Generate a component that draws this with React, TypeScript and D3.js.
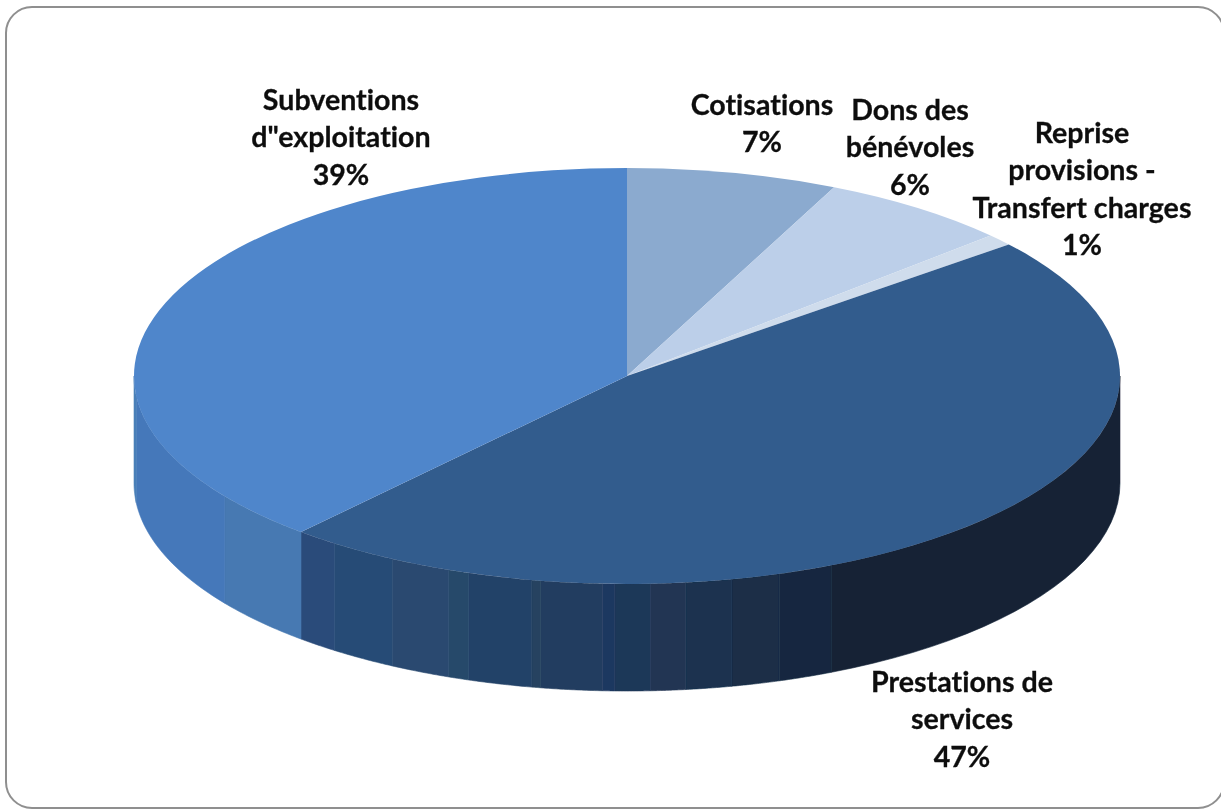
import { arc, area, pie, range, scaleLinear } from "d3";

const categories = ["Cotisations", "Dons des bénévoles", "Reprise provisions - Transfert charges", "Prestations de services", "Subventions d\"exploitation"];
const shares = [6.9, 6.3, 0.9, 47.4, 38.5];
const topColors = ["#8baacf", "#bccfe9", "#cfdcec", "#325b8d", "#4f86cb"];

// label text broken the way the chart wraps it
const labelLines = [
  ["Cotisations"],
  ["Dons des", "bénévoles"],
  ["Reprise", "provisions -", "Transfert charges"],
  ["Prestations de", "services"],
  ["Subventions", "d\"exploitation"]
];
const labelCenters = [762, 910, 1082, 962, 341];
const labelFirstBaselines = [115, 120, 143, 692, 110];

// shaded bands on the side wall, as pie percentages
const wallEdges = [25, 43.2, 45.0, 46.6, 48.1, 49.25, 50.4, 50.8, 52.8, 53.1, 55.2, 55.9, 57.9, 60.1, 61.5, 65.2, 73.5, 75];
const wallColors = [
  "#142236", "#14283f", "#1a2d47", "#1a3350", "#213452", "#1f3859", "#1f3860", "#243e60",
  "#254360", "#234267", "#25486b", "#2a4970", "#264c76", "#2b4c7a", "#4679b2", "#4478ba", "#4a80b8"
];

const WIDTH = 1221;
const HEIGHT = 809;
const CENTER_X = 627;
const CENTER_Y = 376;
const RADIUS_X = 493;
const RADIUS_Y = 208;
const DEPTH = 107;
const LINE_HEIGHT = 37.4;

const TEXT_FONT = "Lato, Carlito, Calibri, sans-serif";

export default function App() {
  const slices = pie<number>().sort(null).value((d) => d)(shares);
  const sliceArc = arc<any>().innerRadius(0).outerRadius(RADIUS_X);

  const xScale = scaleLinear().domain([-1, 1]).range([CENTER_X - RADIUS_X, CENTER_X + RADIUS_X]);
  const yScale = scaleLinear().domain([-1, 1]).range([CENTER_Y - RADIUS_Y, CENTER_Y + RADIUS_Y]);
  const angleScale = scaleLinear().domain([0, 100]).range([0, Math.PI * 2]);

  const wallArea = area<number>()
    .x((a) => xScale(Math.sin(a)))
    .y0((a) => yScale(-Math.cos(a)))
    .y1((a) => yScale(-Math.cos(a)) + DEPTH);

  const wallBands = wallColors.map((color, i) => {
    const from = angleScale(wallEdges[i]);
    const to = angleScale(wallEdges[i + 1]);
    const steps = range(0, 25).map((s) => from + ((to - from) * s) / 24);
    return { color, path: wallArea(steps) ?? "" };
  });

  return (
    <svg
      width={WIDTH}
      height={HEIGHT}
      viewBox={`0 0 ${WIDTH} ${HEIGHT}`}
      style={{ position: "fixed", left: 0, top: 0, background: "#fff" }}
    >
      <defs>
        <filter id="soft" x="-5%" y="-5%" width="110%" height="110%">
          <feGaussianBlur stdDeviation="0.7" />
        </filter>
      </defs>
      <rect x={6} y={7} width={1218} height={801} rx={26} fill="#fff" stroke="#8f8f8f" strokeWidth={2} filter="url(#soft)" />
      <g filter="url(#soft)">
        {wallBands.map((band, i) => (
          <path key={i} d={band.path} fill={band.color} stroke={band.color} strokeWidth={0.6} />
        ))}
        <g transform={`translate(${CENTER_X},${CENTER_Y}) scale(1,${RADIUS_Y / RADIUS_X})`}>
          {slices.map((slice, i) => (
            <path key={categories[i]} d={sliceArc(slice) ?? ""} fill={topColors[i]} />
          ))}
        </g>
      </g>
      <g
        fontFamily={TEXT_FONT}
        fontWeight={700}
        fontSize={28.6}
        fill="#111"
        stroke="#111"
        strokeWidth={0.3}
        textAnchor="middle"
        filter="url(#soft)"
        style={{ fontVariantLigatures: "none" }}
      >
        {labelLines.map((lines, i) => (
          <text key={categories[i]} x={labelCenters[i]} y={labelFirstBaselines[i]}>
            {lines.map((line, j) => (
              <tspan key={line} x={labelCenters[i]} dy={j === 0 ? 0 : LINE_HEIGHT}>
                {line}
              </tspan>
            ))}
            <tspan x={labelCenters[i]} dy={LINE_HEIGHT}>
              {`${Math.round(shares[i])}%`}
            </tspan>
          </text>
        ))}
      </g>
    </svg>
  );
}
